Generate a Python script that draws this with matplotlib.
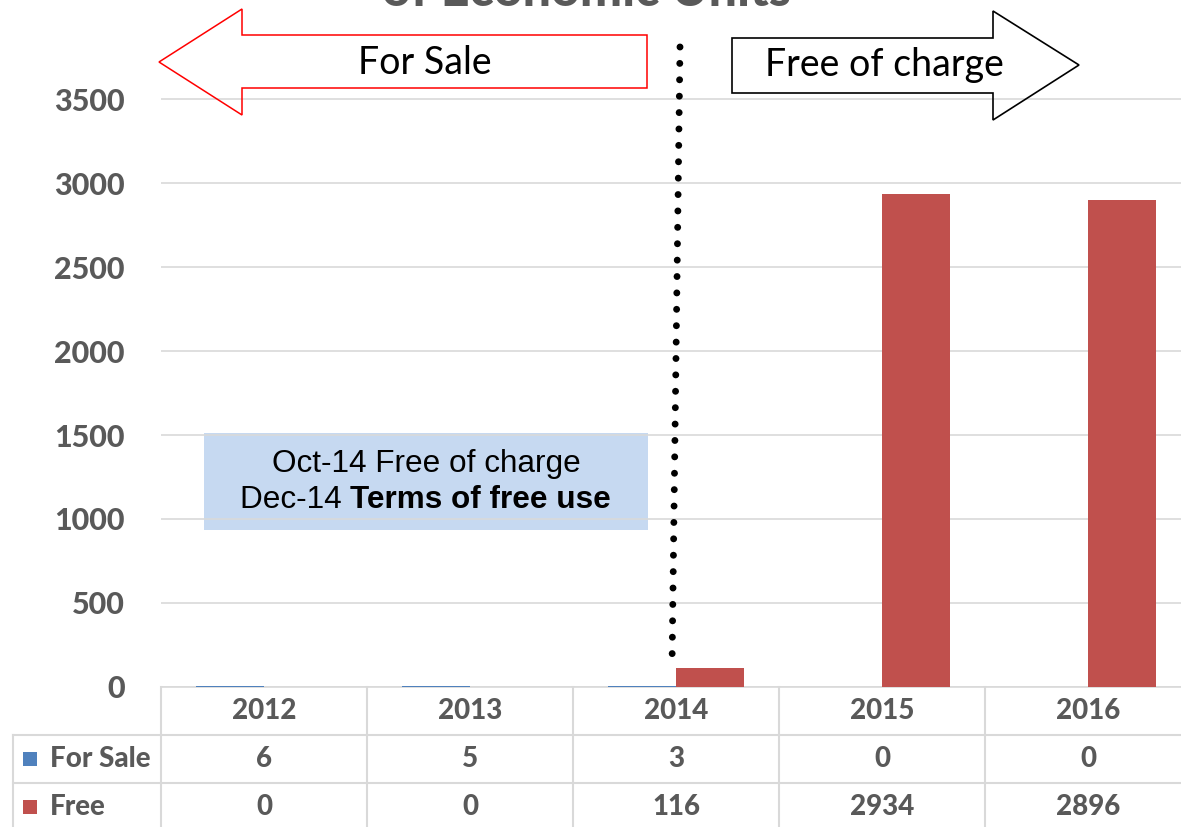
import numpy as np
import matplotlib
matplotlib.use("Agg")
import matplotlib.pyplot as plt
from matplotlib.transforms import Affine2D, blended_transform_factory
from matplotlib.patches import Polygon, Rectangle
from matplotlib.lines import Line2D

plt.rcParams["font.family"] = ["Lato", "DejaVu Sans"]

# data
years = ["2012", "2013", "2014", "2015", "2016"]
for_sale = [6, 5, 3, 0, 0]
free = [0, 0, 116, 2934, 2896]
y_ticks = [0, 500, 1000, 1500, 2000, 2500, 3000, 3500]
series_names = ["For Sale", "Free"]

BLUE = "#4F81BD"
RED = "#C0504D"
GRAY = "#595959"
GRID = "#D9D9D9"
WT = 900

W, H = 1181, 827
fig = plt.figure(figsize=(W / 100, H / 100), dpi=100)
# pixel coords, origin top-left
px = Affine2D().scale(1 / W, -1 / H).translate(0, 1) + fig.transFigure

ax_left, ax_right, ax_bottom, ax_top = 161, 1191, 687, 40
ax = fig.add_axes([ax_left / W, (H - ax_bottom) / H,
                   (ax_right - ax_left) / W, (ax_bottom - ax_top) / H])
ax.patch.set_alpha(0)
ax.set_xlim(-0.5, len(years) - 0.5)
ax.set_ylim(0, (ax_bottom - ax_top) / (588 / 3500))

x = np.arange(len(years))
bw = 0.33
ax.bar(x - bw / 2, for_sale, bw, color=BLUE, zorder=3)
ax.bar(x + bw / 2, free, bw, color=RED, zorder=3)

ax.set_yticks(y_ticks)
ax.set_xticks([])
ax.yaxis.grid(True, color=GRID, lw=1.2)
ax.set_axisbelow(True)
ax.tick_params(axis="y", length=0, pad=26, labelsize=22, labelcolor=GRAY)
for lab in ax.get_yticklabels():
    lab.set_fontweight(WT)
for s in ["top", "right", "left"]:
    ax.spines[s].set_visible(False)
ax.spines["bottom"].set_color(GRID)
ax.spines["bottom"].set_linewidth(1.2)

# data table under the axis
blend = blended_transform_factory(ax.transData, px)
row_y = [711, 759, 807]
for i, yr in enumerate(years):
    fig.text(i, row_y[0], yr, transform=blend, ha="center", va="center",
             fontsize=20, fontweight=WT, color=GRAY)
    fig.text(i, row_y[1], str(for_sale[i]), transform=blend, ha="center",
             va="center", fontsize=20, fontweight=WT, color=GRAY)
    fig.text(i, row_y[2], str(free[i]), transform=blend, ha="center",
             va="center", fontsize=20, fontweight=WT, color=GRAY)
    fig.add_artist(Line2D([i - 0.5, i - 0.5], [687, 840], transform=blend,
                          color=GRID, lw=1.5))
for yy in [735, 783]:
    fig.add_artist(Line2D([13, W], [yy, yy], transform=px, color=GRID, lw=1.5))
fig.add_artist(Line2D([13, 13], [735, 840], transform=px, color=GRID, lw=1.5))

for name, col, yy in zip(series_names, [BLUE, RED], row_y[1:]):
    fig.add_artist(Rectangle((23, yy - 7), 14, 14, transform=px,
                             facecolor=col, edgecolor="none"))
    fig.text(50, yy, name, transform=px, ha="left", va="center",
             fontsize=20, fontweight=WT, color=GRAY)

# title, mostly cut off at top
fig.text(586, 6, "of Economic Units", transform=px, ha="center",
         va="baseline", fontsize=36, fontweight=WT, color=GRAY)

# arrows
red_arrow = [(159, 62), (242, 9), (242, 35), (647, 35), (647, 88),
             (242, 88), (242, 115)]
fig.add_artist(Polygon(red_arrow, closed=True, transform=px, fill=False,
                       edgecolor="#FF0000", lw=1.1))
fig.text(425, 63, "For Sale", transform=px, ha="center", va="center",
         fontsize=27, color="black")

black_arrow = [(732, 38), (993, 38), (993, 11), (1079, 65), (993, 120),
               (993, 93), (732, 93)]
fig.add_artist(Polygon(black_arrow, closed=True, transform=px, fill=False,
                       edgecolor="black", lw=1.2))
fig.text(884, 65, "Free of charge", transform=px, ha="center", va="center",
         fontsize=27, color="black")

# dotted divider
fig.add_artist(Line2D([680, 672], [47, 666], transform=px, color="black",
                      lw=5, linestyle=(0, (0.001, 2.36)),
                      dash_capstyle="round", zorder=5))

# note box
fig.add_artist(Rectangle((204, 433), 444, 97, transform=px,
                         facecolor="#C6D9F1", edgecolor="none", zorder=-1))
fig.text(426, 464, "Oct-14 Free of charge", transform=px, ha="center",
         va="center", fontsize=22.7, family="Liberation Sans", color="black")
t1 = fig.text(240, 500, "Dec-14 ", transform=px, ha="left", va="center",
              fontsize=22.7, family="Liberation Sans", color="black")
fig.add_artist(plt.Annotation("Terms of free use", xy=(1, 0), xycoords=t1,
                              ha="left", va="bottom", fontsize=22.7,
                              family="Liberation Sans", fontweight="bold",
                              color="black"))

fig.savefig("out.png", dpi=100)
